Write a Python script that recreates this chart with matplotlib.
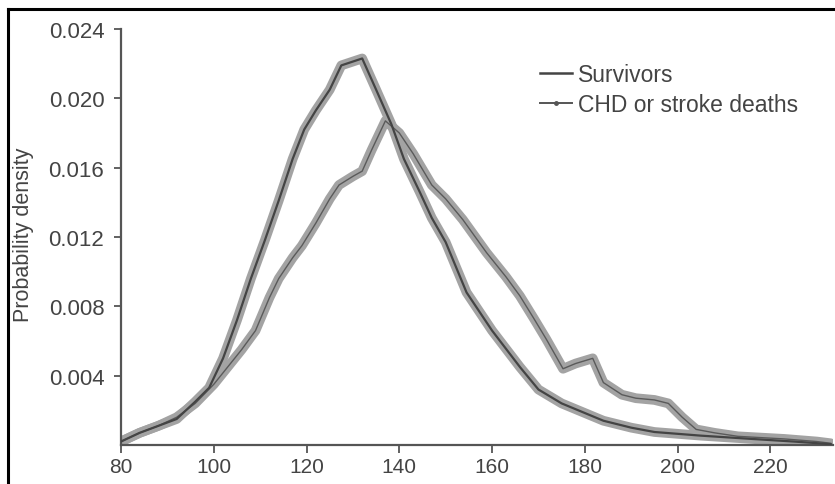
import matplotlib
matplotlib.use("Agg")
import matplotlib.pyplot as plt
from matplotlib.lines import Line2D

plt.rcParams['font.family'] = ['Liberation Sans', 'DejaVu Sans']

# ---- data ----
surv_x = [80, 84, 88, 92, 96, 99, 102, 105, 108, 111, 114, 117, 119.5, 122, 125,
          127.5, 132, 135, 138.3, 141, 144.4, 147, 150, 154.5, 160, 166, 170, 175,
          184, 190, 195, 205, 216, 225, 233]
surv_y = [0.0002, 0.0007, 0.0011, 0.0015, 0.0025, 0.0033, 0.0050, 0.0072, 0.0096,
          0.0118, 0.0141, 0.0165, 0.0182, 0.0193, 0.0205, 0.0219, 0.0223, 0.0205,
          0.0185, 0.0165, 0.0146, 0.0131, 0.0117, 0.0088, 0.0066, 0.0045, 0.0032,
          0.0024, 0.0014, 0.0010, 0.00075, 0.00054, 0.00035, 0.0002, 0.00005]

death_x = [80, 84, 88, 92, 96, 100, 103, 106, 109, 112, 114, 117, 119, 122, 125,
           127, 130, 132, 134, 137, 140, 143, 147, 150, 153.7, 158.8, 163, 166, 169,
           171.7, 175.3, 178, 181.7, 184, 188, 191, 195, 198, 201, 204, 208, 213,
           223, 230, 233]
death_y = [0.0002, 0.0007, 0.0011, 0.0016, 0.0024, 0.0035, 0.0045, 0.0055, 0.0066,
           0.0085, 0.0096, 0.0108, 0.0115, 0.0128, 0.0142, 0.0150, 0.0155, 0.0158,
           0.0170, 0.0187, 0.0180, 0.0168, 0.0150, 0.0142, 0.0130, 0.0111, 0.0097,
           0.0086, 0.0073, 0.0061, 0.0044, 0.0047, 0.0050, 0.0036, 0.0029, 0.0027,
           0.0026, 0.0024, 0.0016, 0.0009, 0.0007, 0.0005, 0.00035, 0.0002, 0.0001]

x_ticks = [80, 100, 120, 140, 160, 180, 200, 220]
y_ticks = [0.004, 0.008, 0.012, 0.016, 0.020, 0.024]
y_tick_labels = ['0.004', '0.008', '0.012', '0.016', '0.020', '0.024']
series_names = ['Survivors', 'CHD or stroke deaths']

# ---- figure ----
W, H = 835, 485
fig = plt.figure(figsize=(W / 100, H / 100), dpi=100)
ax = fig.add_axes([121 / W, 1 - 446 / H, (833 - 121) / W, (446 - 30) / H])

txt = '#444444'
band = '#a3a3a3'
core = '#5a5a5a'

ax.plot(death_x, death_y, color=band, lw=7, solid_capstyle='round', zorder=2)
ax.plot(death_x, death_y, color=core, lw=1.0, zorder=3)
ax.plot(surv_x, surv_y, color=band, lw=7, solid_capstyle='round', zorder=2)
ax.plot(surv_x, surv_y, color='#444444', lw=1.6, zorder=3)

ax.set_xlim(80, 233.5)
ax.set_ylim(0, 0.024)
ax.set_xticks(x_ticks)
ax.set_xticklabels([str(v) for v in x_ticks])
ax.set_yticks(y_ticks)
ax.set_yticklabels(y_tick_labels)

for s in ['top', 'right']:
    ax.spines[s].set_visible(False)
for s in ['left', 'bottom']:
    ax.spines[s].set_color('#555555')
    ax.spines[s].set_linewidth(1.6)
ax.tick_params(axis='y', direction='out', length=5, width=1.3, color='#555555',
               labelsize=16, labelcolor=txt, pad=7)
ax.tick_params(axis='x', direction='out', length=6, width=1.3, color='#555555',
               labelsize=15, labelcolor=txt, pad=3)

fig.text(24 / W, 1 - 235 / H, 'Probability density', rotation=90, ha='center',
         va='center', fontsize=15.5, color=txt)

handles = [Line2D([], [], color='#444444', lw=1.8),
           Line2D([], [], color='#555555', lw=1.4, marker='o', markersize=2.5)]
leg = ax.legend(handles, series_names, loc='upper left',
                bbox_to_anchor=((540 - 121) / (833 - 121), (446 - 64) / (446 - 30)),
                frameon=False, fontsize=16.5, handlelength=1.4, handletextpad=0.25,
                labelspacing=0.3, numpoints=1, borderpad=0, borderaxespad=0)
for t in leg.get_texts():
    t.set_color(txt)

# frame lines of the scanned figure
fig.add_artist(Line2D([8 / W, 1], [1 - 10 / H, 1 - 10 / H], color='black', lw=2.2,
                      transform=fig.transFigure))
fig.add_artist(Line2D([8 / W, 8 / W], [0, 1 - 10 / H], color='black', lw=2.2,
                      transform=fig.transFigure))

fig.savefig('out.png', dpi=100)
